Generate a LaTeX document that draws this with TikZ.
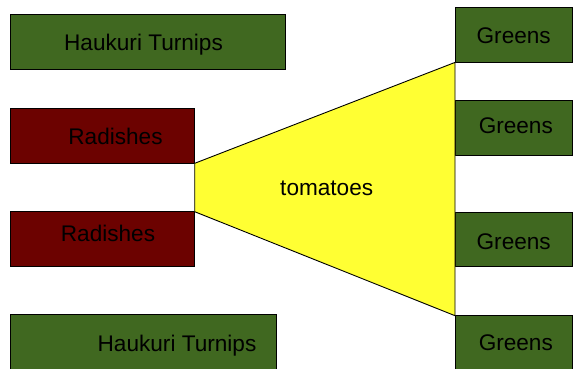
\documentclass[tikz,border=0pt]{standalone}
\usepackage{fontspec}
\setmainfont{Liberation Sans}
\definecolor{vgreen}{RGB}{64,104,32}
\definecolor{vred}{RGB}{108,2,0}
\definecolor{vyellow}{RGB}{255,255,51}
\begin{document}
\begin{tikzpicture}[x=1pt,y=-1pt,
  box/.style={draw=black,line width=0.9pt,inner sep=0pt,outer sep=0pt,minimum width=#1},
  gbox/.style={box=#1,fill=vgreen,minimum height=54.5pt},
  rbox/.style={box=#1,fill=vred,minimum height=55pt},
  lbl/.style={anchor=base,inner sep=0pt,font=\fontsize{22.6}{27}\selectfont,text=black}]
\useasboundingbox (0,0) rectangle (578,368);
\clip (0,0) rectangle (578,368);
% left column
\node[gbox=275pt,minimum height=55.3pt] (hk1) at (147.5,41.65) {};
\node[rbox=184.7pt] (rad1) at (102.35,135.8) {};
\node[rbox=184.7pt] (rad2) at (102.35,239.2) {};
\node[gbox=266.7pt,minimum height=55.3pt] (hk2) at (143.35,342.15) {};
% right column
\node[gbox=117.7pt] (g1) at (513.85,35.15) {};
\node[gbox=117.7pt] (g2) at (513.85,128) {};
\node[gbox=117.7pt] (g3) at (513.85,239.35) {};
\node[gbox=117.7pt] (g4) at (513.85,342.95) {};
% trapezoid
\draw[fill=vyellow,line width=0.9pt,line join=miter]
  (rad1.south east) -- (g1.south west) -- (g4.north west) -- (rad2.north east) -- cycle;
% labels
\node[lbl] (thk1) at (143.5,50.8) {Haukuri Turnips};
\node[lbl] (trad1) at (115.5,144.3) {Radishes};
\node[lbl] (trad2) at (108,241.7) {Radishes};
\node[lbl] (thk2) at (177,351.7) {Haukuri Turnips};
\node[lbl] (tg1) at (513.7,43.7) {Greens};
\node[lbl] (tg2) at (515.8,133.3) {Greens};
\node[lbl] (tg3) at (513.7,249.3) {Greens};
\node[lbl] (tg4) at (515.8,350) {Greens};
\node[lbl] (ttom) at (326.7,195) {tomatoes};
\end{tikzpicture}
\end{document}
